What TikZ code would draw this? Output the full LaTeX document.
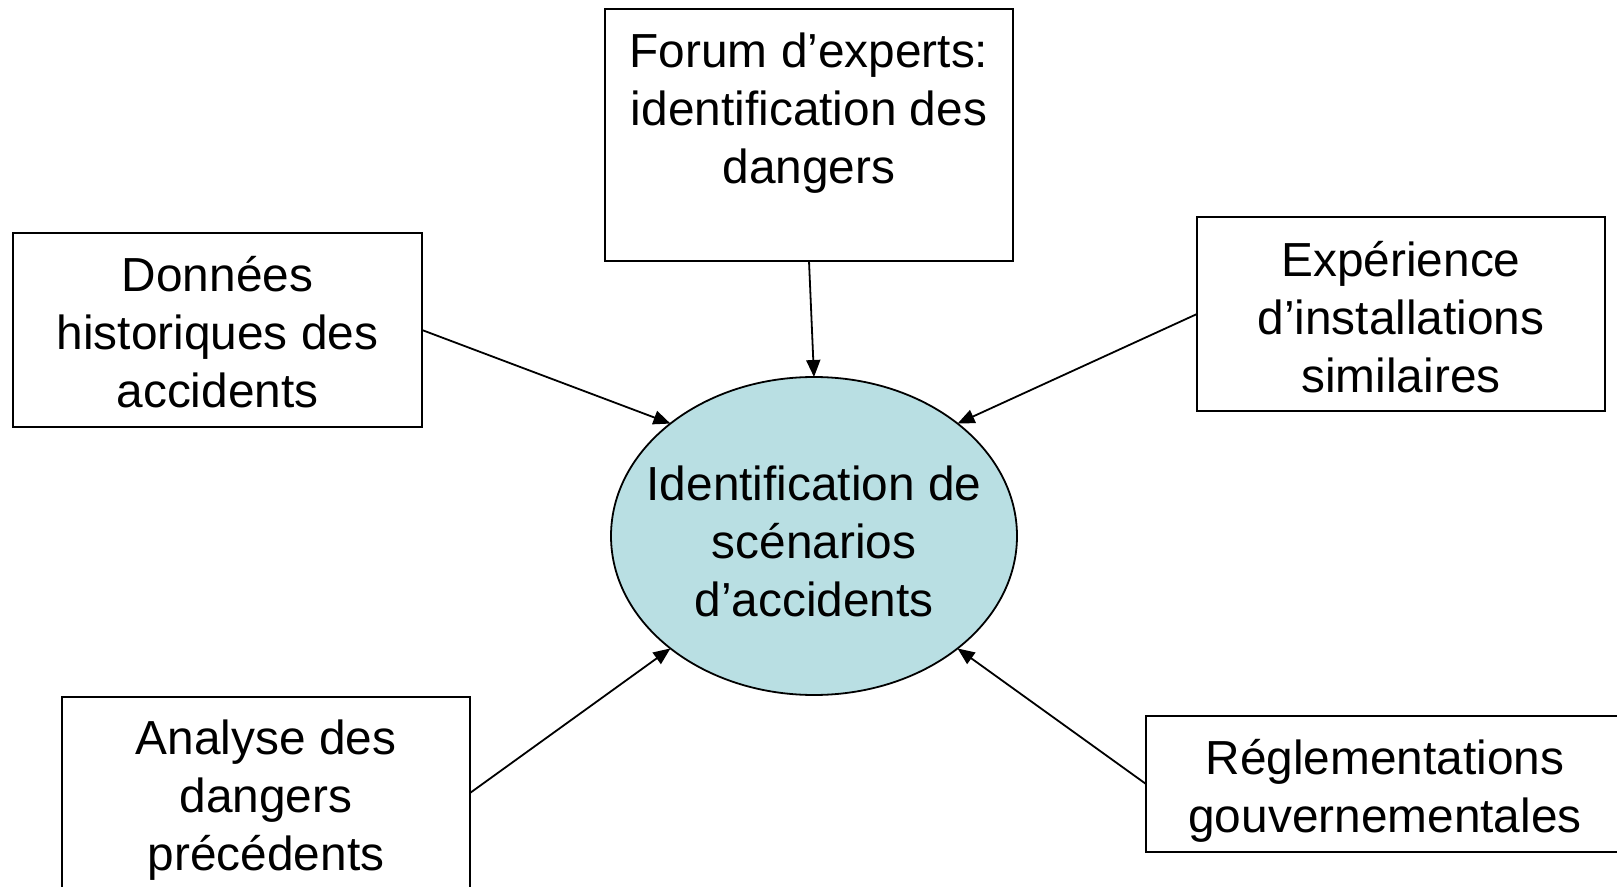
\documentclass[tikz,border=0pt]{standalone}
\usepackage{fontspec}
\setmainfont{Liberation Sans}
\usetikzlibrary{arrows.meta,shapes.geometric}
\definecolor{ellfill}{RGB}{185,223,227}
\begin{document}
\begin{tikzpicture}[x=0.5pt,y=-0.5pt,
  lbl/.style={font=\fontsize{23.9pt}{29pt}\selectfont, align=center, inner sep=0pt, anchor=north},
  box/.style={draw, line width=1pt, inner sep=0pt, outer sep=0pt},
  conn/.style={line width=0.9pt, -{Triangle[length=8.5pt,width=7pt]}}]
\useasboundingbox (0,0) rectangle (1617,887);
% boxes
\node[box, minimum width=204pt, minimum height=126pt] (forum) at (809,135) {};
\node[lbl] (forumtxt) at (809,32) {Forum d’experts:\\identification des\\dangers};
\node[box, minimum width=204.5pt, minimum height=97pt] (donnees) at (217.5,330) {};
\node[lbl] (donneestxt) at (217.5,255.5) {Données\\historiques des\\accidents};
\node[box, minimum width=204pt, minimum height=97pt] (experience) at (1401,314) {};
\node[lbl] (experiencetxt) at (1401,240.5) {Expérience\\d’installations\\similaires};
\node[box, minimum width=204pt, minimum height=96pt] (analyse) at (266,793) {};
\node[lbl] (analysetxt) at (266,719.5) {Analyse des\\dangers\\précédents};
\node[box, minimum width=239pt, minimum height=68pt] (regle) at (1385,784) {};
\node[lbl] (regletxt) at (1385,738.5) {Réglementations\\gouvernementales};
% centre
\node[ellipse, draw, line width=0.9pt, fill=ellfill, inner sep=0pt, outer sep=0pt,
      minimum width=203pt, minimum height=159pt] (ell) at (814,536) {};
\node[lbl] (elltxt) at (814,465) {Identification de\\scénarios\\d’accidents};
% connectors
\draw[conn] (forum.south) -- (ell.north);
\draw[conn] (donnees.east) -- (ell.north west);
\draw[conn] (experience.west) -- (ell.north east);
\draw[conn] (analyse.east) -- (ell.south west);
\draw[conn] (regle.west) -- (ell.south east);
\end{tikzpicture}
\end{document}
